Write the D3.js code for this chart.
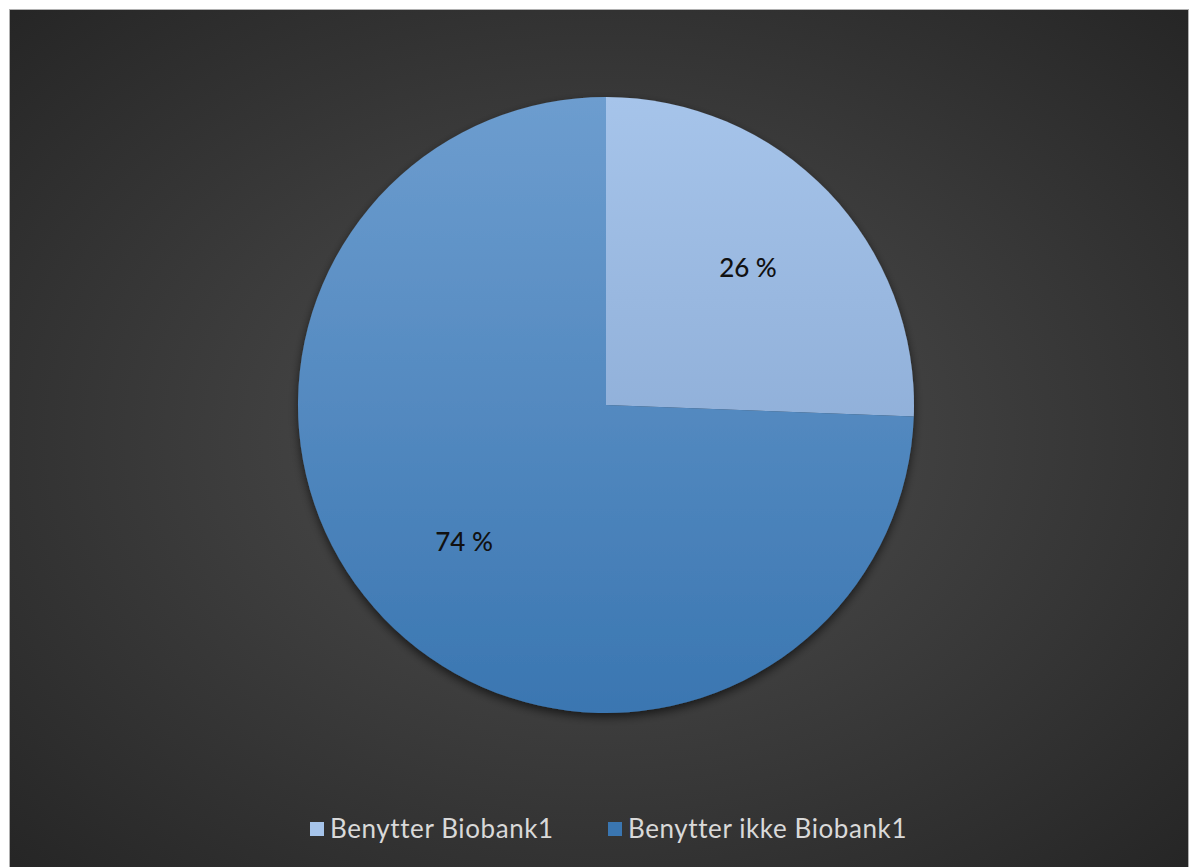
<!DOCTYPE html>
<html>
<head>
<meta charset="utf-8">
<script src="https://cdn.jsdelivr.net/npm/d3@7"></script>
<style>
  body { margin: 0; background: #fff; }
  svg { display: block; }
</style>
</head>
<body>
<div class="chart"></div>
<script>
// data
var categories = ["Benytter Biobank1", "Benytter ikke Biobank1"];
var values = [25.6, 74.4];
var valueLabels = ["26 %", "74 %"];

var width = 1189, height = 867;

var svg = d3.select(".chart").append("svg")
    .attr("width", width)
    .attr("height", height);

var defs = svg.append("defs");

// background radial gradient
var bg = defs.append("radialGradient").attr("id", "bg")
    .attr("cx", "50%").attr("cy", "50%").attr("r", "70%");
bg.append("stop").attr("offset", "0%").attr("stop-color", "#505050");
bg.append("stop").attr("offset", "100%").attr("stop-color", "#262626");

// slice gradients (top to bottom)
var sliceColors = [["#a6c4ea", "#7e9fcb"], ["#6d9dcf", "#3a76b1"]];
sliceColors.forEach(function(c, i) {
  var g = defs.append("linearGradient").attr("id", "slice" + i)
      .attr("gradientUnits", "userSpaceOnUse")
      .attr("x1", 0).attr("y1", -308).attr("x2", 0).attr("y2", 308);
  g.append("stop").attr("offset", "0%").attr("stop-color", c[0]);
  g.append("stop").attr("offset", "100%").attr("stop-color", c[1]);
});

var shadow = defs.append("filter").attr("id", "shadow")
    .attr("x", "-20%").attr("y", "-20%").attr("width", "140%").attr("height", "140%");
shadow.append("feDropShadow").attr("dx", 0).attr("dy", 4)
    .attr("stdDeviation", 5).attr("flood-color", "#000").attr("flood-opacity", 0.6);

svg.append("rect")
    .attr("x", 9.5).attr("y", 9.5)
    .attr("width", width - 10).attr("height", height - 9)
    .attr("fill", "url(#bg)")
    .attr("stroke", "#b0b0b0").attr("stroke-width", 1);

var cx = 606, cy = 405, radius = 308;

var pie = d3.pie().sort(null).value(function(d) { return d; });
var arc = d3.arc().innerRadius(0).outerRadius(radius);
var labelArc = d3.arc().innerRadius(radius * 0.64).outerRadius(radius * 0.64);

var g = svg.append("g").attr("transform", "translate(" + cx + "," + cy + ")");

var arcs = pie(values);

g.append("g").attr("filter", "url(#shadow)")
  .selectAll("path")
  .data(arcs)
  .enter().append("path")
    .attr("d", arc)
    .attr("fill", function(d, i) { return "url(#slice" + i + ")"; });

g.selectAll("text.val")
  .data(arcs)
  .enter().append("text")
    .attr("class", "val")
    .attr("transform", function(d) {
      var c = labelArc.centroid(d);
      return "translate(" + c[0] + "," + c[1] + ")";
    })
    .attr("text-anchor", "middle")
    .attr("dy", "0.35em")
    .style("font-family", "Lato, 'Open Sans', sans-serif")
    .style("font-size", "26px")
    .style("font-weight", "500")
    .style("fill", "#111")
    .text(function(d, i) { return valueLabels[i]; });

// legend
var legendX = [310, 608];
var legend = svg.append("g");
categories.forEach(function(name, i) {
  var lg = legend.append("g").attr("transform", "translate(" + legendX[i] + ",829)");
  lg.append("rect")
    .attr("x", 0).attr("y", -7)
    .attr("width", 14).attr("height", 14)
    .attr("fill", sliceColors[i][i === 0 ? 0 : 1]);
  lg.append("text")
    .attr("x", 20).attr("y", 0)
    .attr("dy", "0.35em")
    .style("font-family", "Lato, 'Open Sans', sans-serif")
    .style("font-size", "26px")
    .style("letter-spacing", "0.6px")
    .style("fill", "#d9d9d9")
    .text(name);
});
</script>
</body>
</html>
